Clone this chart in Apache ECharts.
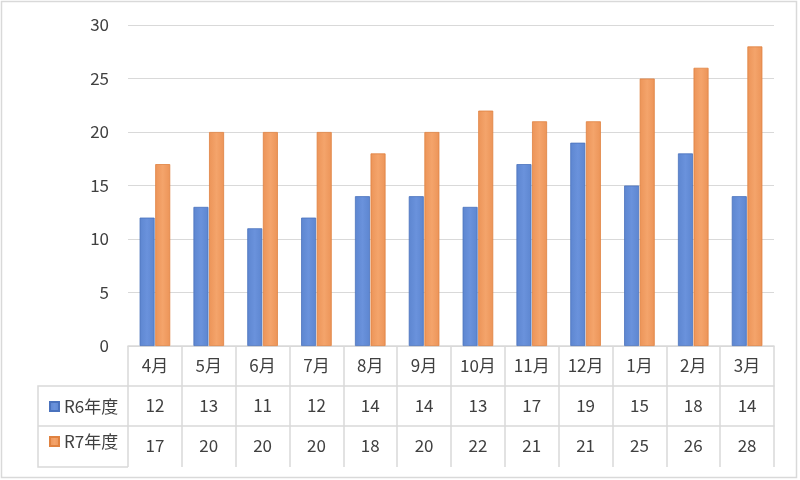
<!DOCTYPE html>
<html>
<head>
<meta charset="utf-8">
<script src="https://cdn.jsdelivr.net/npm/echarts@6/dist/echarts.min.js"></script>
<style>
  html, body { margin: 0; padding: 0; background: #fff; }
  #main { width: 800px; height: 480px; }
</style>
</head>
<body>
<div id="main"></div>
<script>
var months = ['4月', '5月', '6月', '7月', '8月', '9月', '10月', '11月', '12月', '1月', '2月', '3月'];
var seriesNames = ['R6年度', 'R7年度'];
var r6 = [12, 13, 11, 12, 14, 14, 13, 17, 19, 15, 18, 14];
var r7 = [17, 20, 20, 20, 18, 20, 22, 21, 21, 25, 26, 28];
var yTicks = [0, 5, 10, 15, 20, 25, 30];

var font = '"Noto Sans CJK JP", "Noto Sans", sans-serif';
var textColor = '#404040';
var lineColor = '#d9d9d9';

var myChart = echarts.init(document.getElementById('main'));

// one category axis per table row, stacked under the plot
function tableAxis(offset, labels) {
  return {
    type: 'category',
    data: months,
    position: 'bottom',
    offset: offset,
    axisLine: { show: true, lineStyle: { color: lineColor, width: 1.5 } },
    axisTick: { show: offset === 0, length: 121, lineStyle: { color: lineColor, width: 1.5 } },
    axisLabel: {
      color: textColor, fontSize: 17, fontFamily: font, margin: 11,
      formatter: function (v, i) { return labels[i]; }
    },
    splitLine: { show: false }
  };
}

var option = {
  animation: false,
  backgroundColor: '#fff',
  textStyle: { fontFamily: font },
  grid: { left: 128, right: 26, top: 25, bottom: 134 },
  legend: {
    data: seriesNames,
    orient: 'vertical',
    left: 44,
    top: 393,
    itemGap: 18,
    itemWidth: 9,
    itemHeight: 9,
    icon: 'rect',
    textStyle: { color: textColor, fontSize: 17, fontFamily: font }
  },
  xAxis: [
    tableAxis(0, months),
    tableAxis(40, r6),
    tableAxis(80, r7)
  ],
  yAxis: {
    type: 'value',
    min: 0,
    max: 30,
    interval: 5,
    axisLine: { show: false },
    axisTick: { show: false },
    axisLabel: {
      color: textColor, fontSize: 17, fontFamily: font, margin: 19,
      formatter: function (v) { return yTicks.indexOf(v) >= 0 ? v : ''; }
    },
    splitLine: { lineStyle: { color: lineColor, width: 1.2 } }
  },
  series: [
    {
      name: seriesNames[0],
      type: 'bar',
      data: r6,
      barWidth: 15,
      barGap: '4%',
      itemStyle: {
        color: new echarts.graphic.LinearGradient(0, 0, 1, 0, [
          { offset: 0, color: '#5d86d0' },
          { offset: 0.5, color: '#6a92dc' },
          { offset: 1, color: '#5d86d0' }
        ]),
        borderColor: '#4a72bd',
        borderWidth: 0.8
      }
    },
    {
      name: seriesNames[1],
      type: 'bar',
      data: r7,
      barWidth: 15,
      itemStyle: {
        color: new echarts.graphic.LinearGradient(0, 0, 1, 0, [
          { offset: 0, color: '#ec9458' },
          { offset: 0.5, color: '#f4a46b' },
          { offset: 1, color: '#ec9458' }
        ]),
        borderColor: '#e08240',
        borderWidth: 0.8
      }
    }
  ],
  graphic: [
    // chart frame
    { type: 'rect', shape: { x: 1.5, y: 1.5, width: 795, height: 476 },
      style: { fill: null, stroke: lineColor, lineWidth: 1.5 }, silent: true },
    // legend cells left of the grid
    { type: 'polyline', shape: { points: [[128, 386], [38, 386], [38, 467], [128, 467]] },
      style: { fill: null, stroke: lineColor, lineWidth: 1.5 }, silent: true },
    { type: 'line', shape: { x1: 38, y1: 426, x2: 128, y2: 426 },
      style: { stroke: lineColor, lineWidth: 1.5 }, silent: true }
  ]
};

myChart.setOption(option);
</script>
</body>
</html>
